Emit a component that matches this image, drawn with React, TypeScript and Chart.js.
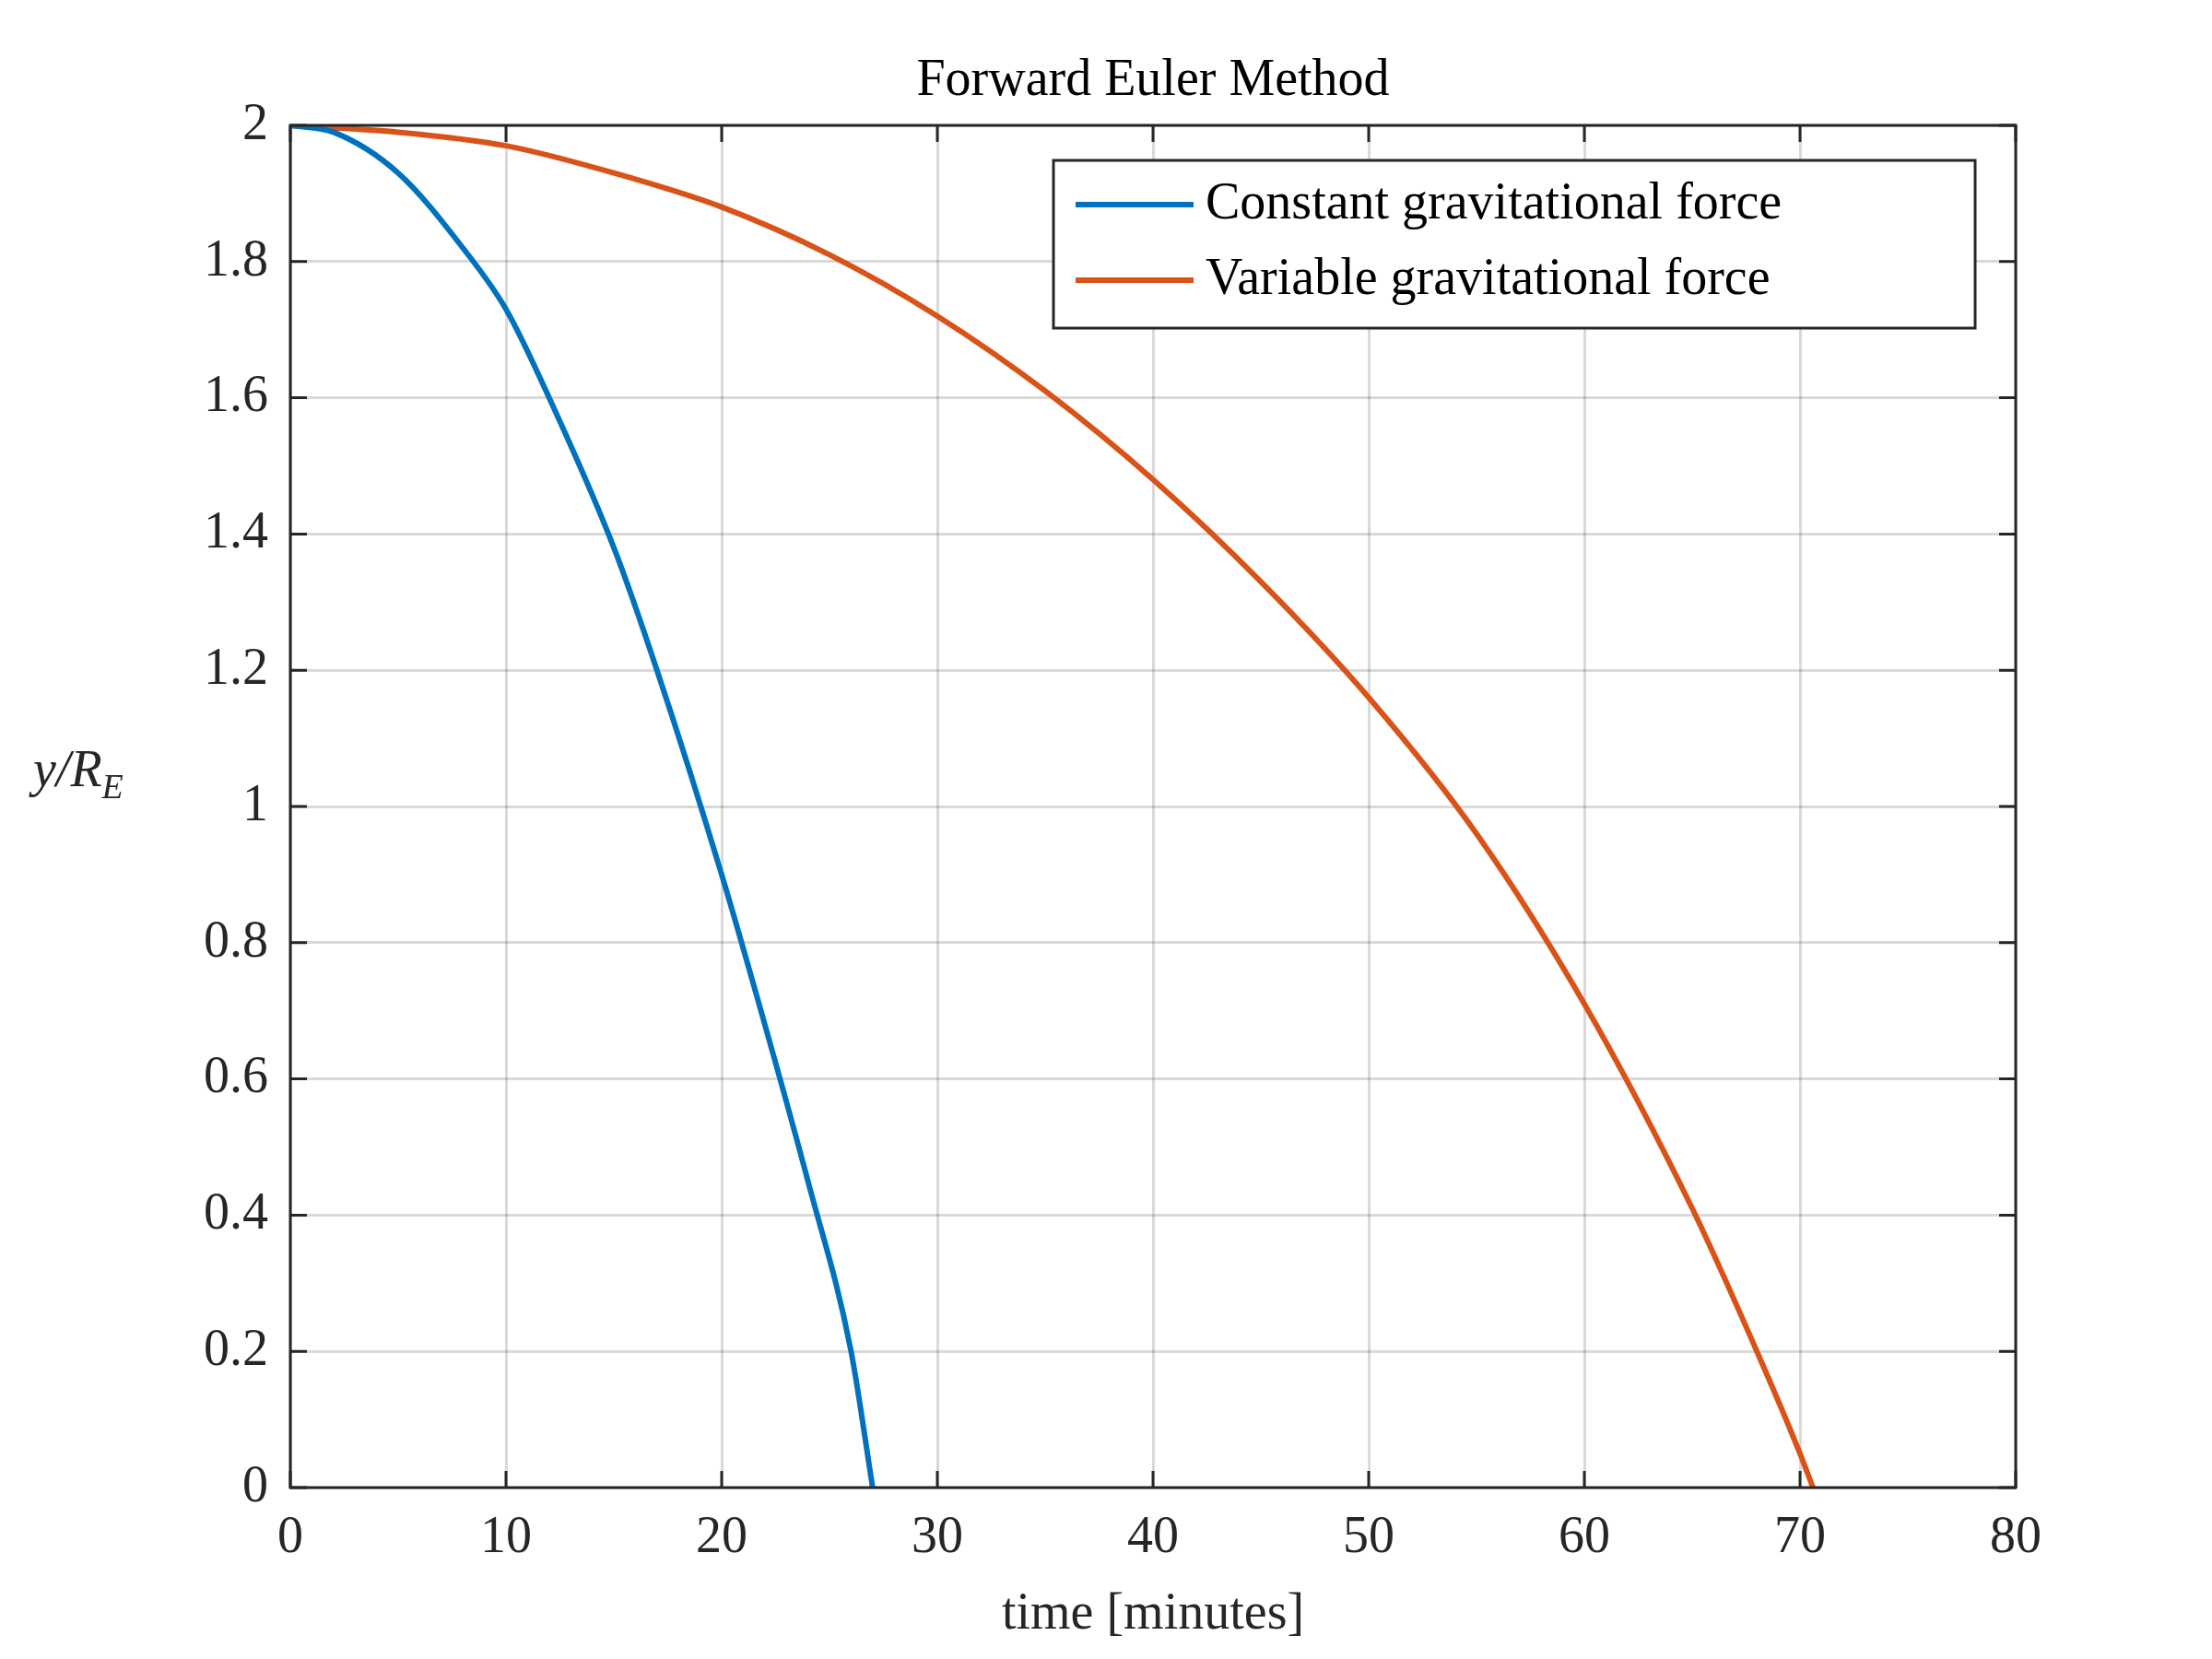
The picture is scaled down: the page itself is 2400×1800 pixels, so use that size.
import { Chart, registerables } from "chart.js";
import { useEffect, useRef } from "react";

const constTime = [0, 2, 5, 8, 10, 12, 15, 17, 20, 22, 24, 26, 27];
const constY = [2, 1.99, 1.93, 1.82, 1.73, 1.6, 1.38, 1.2, 0.9, 0.68, 0.45, 0.2, 0];
const varTime = [0, 5, 10, 15, 20, 25, 30, 35, 40, 45, 50, 55, 60, 65, 68, 70, 70.6];
const varY = [2, 1.99, 1.97, 1.93, 1.88, 1.81, 1.72, 1.61, 1.48, 1.33, 1.16, 0.96, 0.71, 0.41, 0.2, 0.05, 0];
const xTicks = [0, 10, 20, 30, 40, 50, 60, 70, 80];
const legendLabels = ["Constant gravitational force", "Variable gravitational force"];
const colors = ["#0072BD", "#D95319"];

const FONT = "'Liberation Serif', 'DejaVu Serif', serif";
const TXT = "#262626";

const App = () => {
  const canvasRef = useRef<HTMLCanvasElement>(null);

  useEffect(() => {
    document.body.style.margin = "0";
    const ctx = canvasRef.current?.getContext("2d");
    if (!ctx) return;
    Chart.register(...registerables);

    const deco = {
      id: "deco",
      afterDraw(chart: any) {
        const c = chart.ctx;
        const { left, right, top, bottom } = chart.chartArea;
        const xs = chart.scales.x;
        const ys = chart.scales.y;
        c.save();
        c.strokeStyle = TXT;
        c.lineWidth = 3;
        c.strokeRect(left, top, right - left, bottom - top);
        const tl = 18;
        c.beginPath();
        xTicks.forEach((v) => {
          const px = xs.getPixelForValue(v);
          c.moveTo(px, bottom); c.lineTo(px, bottom - tl);
          c.moveTo(px, top); c.lineTo(px, top + tl);
        });
        for (let v = 0; v <= 2.001; v += 0.2) {
          const py = ys.getPixelForValue(v);
          c.moveTo(left, py); c.lineTo(left + tl, py);
          c.moveTo(right, py); c.lineTo(right - tl, py);
        }
        c.stroke();

        c.fillStyle = "#000";
        c.textAlign = "center";
        c.textBaseline = "middle";
        c.font = `56px ${FONT}`;
        c.fillText("Forward Euler Method", (left + right) / 2, 88);
        c.fillStyle = TXT;
        c.fillText("time [minutes]", (left + right) / 2, 1752);

        // y label
        c.textAlign = "left";
        c.font = `italic 56px ${FONT}`;
        c.fillText("y/R", 36, 838);
        const w = c.measureText("y/R").width;
        c.font = `italic 38px ${FONT}`;
        c.fillText("E", 36 + w, 856);

        // legend
        c.fillStyle = "#fff";
        c.fillRect(1143, 174, 1000, 182);
        c.strokeStyle = TXT;
        c.lineWidth = 3;
        c.strokeRect(1143, 174, 1000, 182);
        [222, 304].forEach((y, i) => {
          c.strokeStyle = colors[i];
          c.lineWidth = 6;
          c.beginPath();
          c.moveTo(1167, y); c.lineTo(1295, y);
          c.stroke();
          c.fillStyle = "#000";
          c.font = `56px ${FONT}`;
          c.textAlign = "left";
          c.fillText(legendLabels[i], 1308, y);
        });
        c.restore();
      },
    };

    const chart = new Chart(ctx, {
      type: "line",
      data: {
        datasets: [
          { label: legendLabels[0], data: constTime.map((t, i) => ({ x: t, y: constY[i] })), borderColor: colors[0] },
          { label: legendLabels[1], data: varTime.map((t, i) => ({ x: t, y: varY[i] })), borderColor: colors[1] },
        ].map((d) => ({ ...d, borderWidth: 6, pointRadius: 0, cubicInterpolationMode: "monotone" as const, fill: false })),
      },
      options: {
        animation: false,
        responsive: false,
        layout: { padding: { top: 136, right: 213, left: 0, bottom: 0 } },
        plugins: { legend: { display: false }, tooltip: { enabled: false } },
        scales: {
          x: {
            type: "linear", min: 0, max: 80,
            afterFit: (s: any) => { s.height = 186; },
            afterBuildTicks: (s: any) => { s.ticks = xTicks.map((v) => ({ value: v })); },
            border: { display: false },
            grid: { color: "rgba(0,0,0,0.15)", lineWidth: 3, drawTicks: false },
            ticks: { color: TXT, padding: 22, font: { family: FONT, size: 56 }, maxRotation: 0 },
          },
          y: {
            min: 0, max: 2,
            afterFit: (s: any) => { s.width = 315; },
            border: { display: false },
            grid: { color: "rgba(0,0,0,0.15)", lineWidth: 3, drawTicks: false },
            ticks: { stepSize: 0.2, color: TXT, padding: 24, font: { family: FONT, size: 56 }, callback: (v: any) => String(Math.round(v * 10) / 10) },
          },
        },
      },
      plugins: [deco],
    });
    return () => chart.destroy();
  }, []);

  return (
    <div style={{ width: 2400, height: 1800, background: "#fff" }}>
      <canvas ref={canvasRef} width={2400} height={1800} style={{ width: 2400, height: 1800 }} />
    </div>
  );
};

export default App;
